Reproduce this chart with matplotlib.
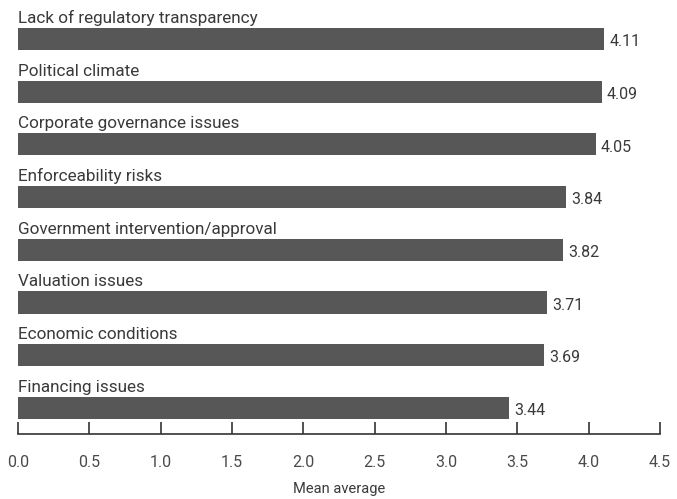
import matplotlib
matplotlib.use("Agg")
import matplotlib.pyplot as plt

categories = ["Lack of regulatory transparency", "Political climate",
              "Corporate governance issues", "Enforceability risks",
              "Government intervention/approval", "Valuation issues",
              "Economic conditions", "Financing issues"]
values = [4.11, 4.09, 4.05, 3.84, 3.82, 3.71, 3.69, 3.44]
xticks = [0.0, 0.5, 1.0, 1.5, 2.0, 2.5, 3.0, 3.5, 4.0, 4.5]

plt.rcParams['font.family'] = ['Roboto', 'DejaVu Sans']

fig = plt.figure(figsize=(6.77, 4.99), dpi=100)
ax = fig.add_axes([18/677, 1-434/499, (660-18)/677, 434/499])

bar_color = "#575757"
text_color = "#3a3a3a"
pos = list(range(len(categories)))
ax.barh(pos, values, height=0.42, color=bar_color, align='center')
for i, (c, v) in enumerate(zip(categories, values)):
    ax.text(0, i - 0.25, c, ha='left', va='bottom', fontsize=12.3, color=text_color)
    ax.text(v + 0.035, i + 0.05, f"{v:.2f}", ha='left', va='center', fontsize=11.5,
            color=text_color)

ax.set_xlim(0, 4.5)
ax.set_ylim(7.495, -0.74)
ax.set_xticks(xticks)
ax.set_xticklabels([f"{t:.1f}" for t in xticks], fontsize=11.5, color="#4a4a4a")
ax.set_yticks([])
for s in ['top', 'right', 'left']:
    ax.spines[s].set_visible(False)
ax.spines['bottom'].set_color("#333333")
ax.spines['bottom'].set_linewidth(1.2)
ax.tick_params(axis='x', direction='in', length=9, width=1.2, color="#333333", pad=15)
ax.set_xlabel("Mean average", fontsize=10.5, color="#3a3a3a", labelpad=9)

fig.savefig("out.png", dpi=100)
